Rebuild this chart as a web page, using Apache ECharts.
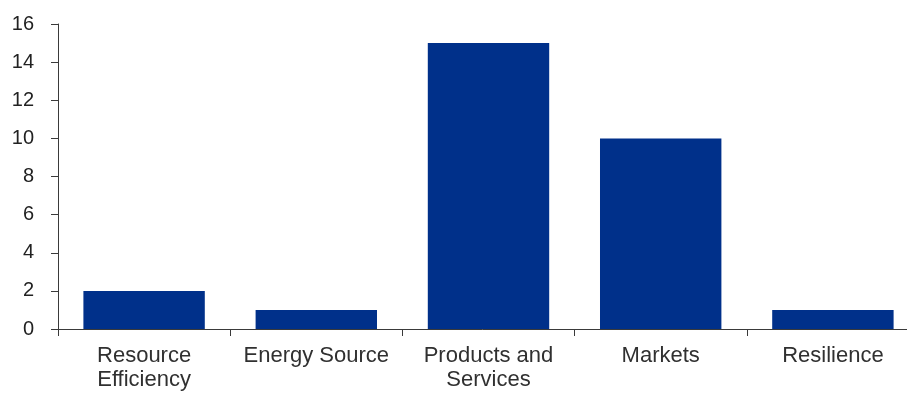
<!DOCTYPE html>
<html><head><meta charset="utf-8">
<script src="https://cdn.jsdelivr.net/npm/echarts@6/dist/echarts.min.js"></script>
<style>html,body{margin:0;padding:0;background:#fff;overflow:hidden;}#c{width:907px;height:394px;}</style>
</head><body><div id="c"></div>
<script>
var categories = ['Resource\nEfficiency', 'Energy Source', 'Products and\nServices', 'Markets', 'Resilience'];
var values = [2, 1, 15, 10, 1];
var yTicks = [0, 2, 4, 6, 8, 10, 12, 14, 16];

var chart = echarts.init(document.getElementById('c'), null, {renderer: 'canvas'});
chart.setOption({
  animation: false,
  backgroundColor: '#ffffff',
  grid: {left: 58, width: 861, top: 24, bottom: 65, containLabel: false, outerBoundsMode: 'none'},
  xAxis: {
    type: 'category',
    data: categories,
    axisLine: {lineStyle: {color: '#3a3a3a', width: 1}},
    axisTick: {show: true, length: 7, alignWithLabel: false, lineStyle: {color: '#3a3a3a'}},
    axisLabel: {
      color: '#303030', fontFamily: 'Liberation Sans', fontSize: 22,
      lineHeight: 24, margin: 15, interval: 0
    }
  },
  yAxis: {
    type: 'value',
    min: yTicks[0], max: yTicks[yTicks.length - 1], interval: 2,
    axisLine: {show: true, lineStyle: {color: '#3a3a3a', width: 1}},
    axisTick: {show: true, length: 7, lineStyle: {color: '#3a3a3a'}},
    splitLine: {show: false},
    axisLabel: {color: '#222222', fontFamily: 'Liberation Sans', fontSize: 20, margin: 24}
  },
  series: [{
    type: 'bar',
    data: values,
    barWidth: '70.5%',
    itemStyle: {color: '#00308A'}
  }]
});
</script></body></html>
